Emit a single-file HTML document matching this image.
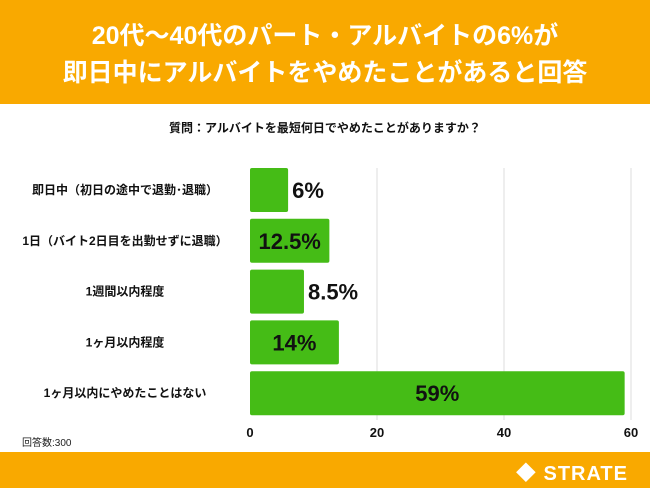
<!DOCTYPE html>
<html><head><meta charset="utf-8"><style>
body{margin:0;width:650px;height:488px;overflow:hidden;background:#fff;font-family:"Liberation Sans","Noto Sans CJK JP",sans-serif}
#hdr{position:absolute;left:0;top:0;width:650px;height:104px;background:#F9A900;color:#fff;font-weight:bold;font-size:25px;line-height:37px;text-align:center;padding-top:18px;box-sizing:border-box}
#sub{position:absolute;left:0;top:119px;width:650px;text-align:center;font-size:12px;font-weight:bold;color:#111}
#ftr{position:absolute;left:0;top:452px;width:650px;height:36px;background:#F9A900}
#logo{position:absolute;right:22px;top:5px;color:#fff;font-weight:bold;font-size:20px;letter-spacing:1px}
#n{position:absolute;left:22px;top:434px;font-size:10px;color:#222}
</style></head><body>
<div id="hdr">20代〜40代のパート・アルバイトの6%が<br>即日中にアルバイトをやめたことがあると回答</div>
<div id="sub">質問：アルバイトを最短何日でやめたことがありますか？</div>
<svg id="chart" width="650" height="488" style="position:absolute;left:0;top:0"></svg>
<div id="n">回答数:300</div>
<div id="ftr"><div id="logo">◆ STRATE</div></div>
<script>
const categories=["即日中（初日の途中で退勤･退職）","1日（バイト2日目を出勤せずに退職）","1週間以内程度","1ヶ月以内程度","1ヶ月以内にやめたことはない"];
const values=[6,12.5,8.5,14,59];
const valueLabels=["6%","12.5%","8.5%","14%","59%"];
const ticks=[0,20,40,60];
const svg=document.getElementById('chart');const NS="http://www.w3.org/2000/svg";
const x=v=>250+v*(631-250)/60;
const yTop=i=>168+i*50.8;const bh=44;
function mk(t,a){const e=document.createElementNS(NS,t);for(const k in a)e.setAttribute(k,a[k]);svg.appendChild(e);return e;}
ticks.forEach(t=>{if(t>0){const l=mk('line',{x1:x(t),x2:x(t),y1:168,y2:420,stroke:'#ddd','stroke-width':1});

}
const tx=mk('text',{x:x(t),y:437,'text-anchor':'middle','font-size':13,'font-weight':'bold',fill:'#111'});tx.textContent=t;

});
categories.forEach((c,i)=>{const y=yTop(i);
const r=mk('rect',{x:x(0),y:y,width:x(values[i])-x(0),height:bh,rx:2,fill:'#45BC16'});


const lb=mk('text',{x:125,y:y+bh/2+4,'text-anchor':'middle','font-size':12,'font-weight':'bold',fill:'#111'});lb.textContent=c;


const w=x(values[i])-x(0);const inside=w>60;
const vt=mk('text',{x:inside?x(0)+w/2:x(values[i])+4,y:y+bh/2+8,'text-anchor':inside?'middle':'start','font-size':22,'font-weight':'bold',fill:'#111'});vt.textContent=valueLabels[i];

});
</script>
</body></html>
